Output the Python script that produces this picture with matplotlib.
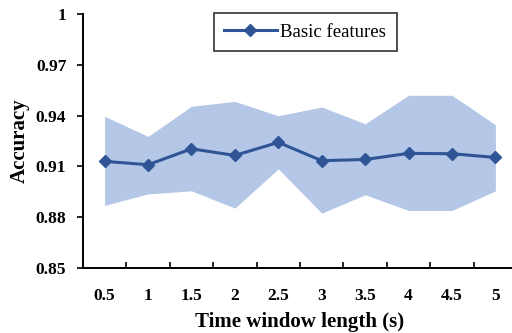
import numpy as np
import matplotlib.pyplot as plt
from matplotlib.ticker import FixedLocator, NullFormatter

plt.rcParams['font.family'] = ['Liberation Serif', 'DejaVu Serif']

windows = ["0.5", "1", "1.5", "2", "2.5", "3", "3.5", "4", "4.5", "5"]
acc_mean = [0.913, 0.911, 0.9204, 0.9165, 0.9242, 0.9134, 0.9141, 0.9177, 0.9175, 0.9153]
acc_upper = [0.9396, 0.9277, 0.9455, 0.9484, 0.9399, 0.9451, 0.9352, 0.952, 0.952, 0.9346]
acc_lower = [0.887, 0.8938, 0.8956, 0.8854, 0.9086, 0.8824, 0.8933, 0.884, 0.884, 0.8956]
y_ticks = [0.85, 0.88, 0.91, 0.94, 0.97, 1.0]
y_labels = ["0.85", "0.88", "0.91", "0.94", "0.97", "1"]

line_color = "#2F5597"
band_color = "#B4C7E7"


def main():
    fig = plt.figure(figsize=(5.12, 3.33), dpi=100)
    ax = fig.add_axes([0.162, 0.195, 0.848, 0.763])

    x = np.arange(1, len(windows) + 1)
    ax.fill_between(x, acc_lower, acc_upper, color=band_color, linewidth=0)
    ax.plot(x, acc_mean, color=line_color, linewidth=2.2, marker="D",
            markersize=6, label="Basic features")

    ax.set_xlim(0.5, len(windows) + 0.5)
    ax.set_ylim(0.85, 1.0)

    # category labels at centres, tick marks on the boundaries
    ax.set_xticks(x)
    ax.set_xticklabels(windows, fontsize=12.5, fontweight="bold")
    ax.tick_params(axis="x", which="major", length=0, pad=14)
    ax.xaxis.set_minor_locator(FixedLocator(x[:-1] + 0.5))
    ax.xaxis.set_minor_formatter(NullFormatter())
    ax.tick_params(axis="x", which="minor", direction="in", length=4, width=1.2)

    ax.set_yticks(y_ticks)
    ax.set_yticklabels(y_labels, fontsize=12.5, fontweight="bold")
    ax.tick_params(axis="y", direction="out", length=4, width=1.2, pad=8)

    for side in ["top", "right"]:
        ax.spines[side].set_visible(False)
    for side in ["left", "bottom"]:
        ax.spines[side].set_linewidth(1.4)

    ax.set_xlabel("Time window length (s)", fontsize=15, fontweight="bold", labelpad=6)
    ax.set_ylabel("Accuracy", fontsize=15, fontweight="bold", labelpad=4)

    leg = ax.legend(loc="upper center", bbox_to_anchor=(0.512, 1.04), fontsize=13.5,
                    frameon=True, fancybox=False, edgecolor="black",
                    handlelength=2.8, borderpad=0.55, handletextpad=0.2)
    leg.get_frame().set_linewidth(1.2)

    fig.savefig("out.png", dpi=100)


if __name__ == "__main__":
    main()
